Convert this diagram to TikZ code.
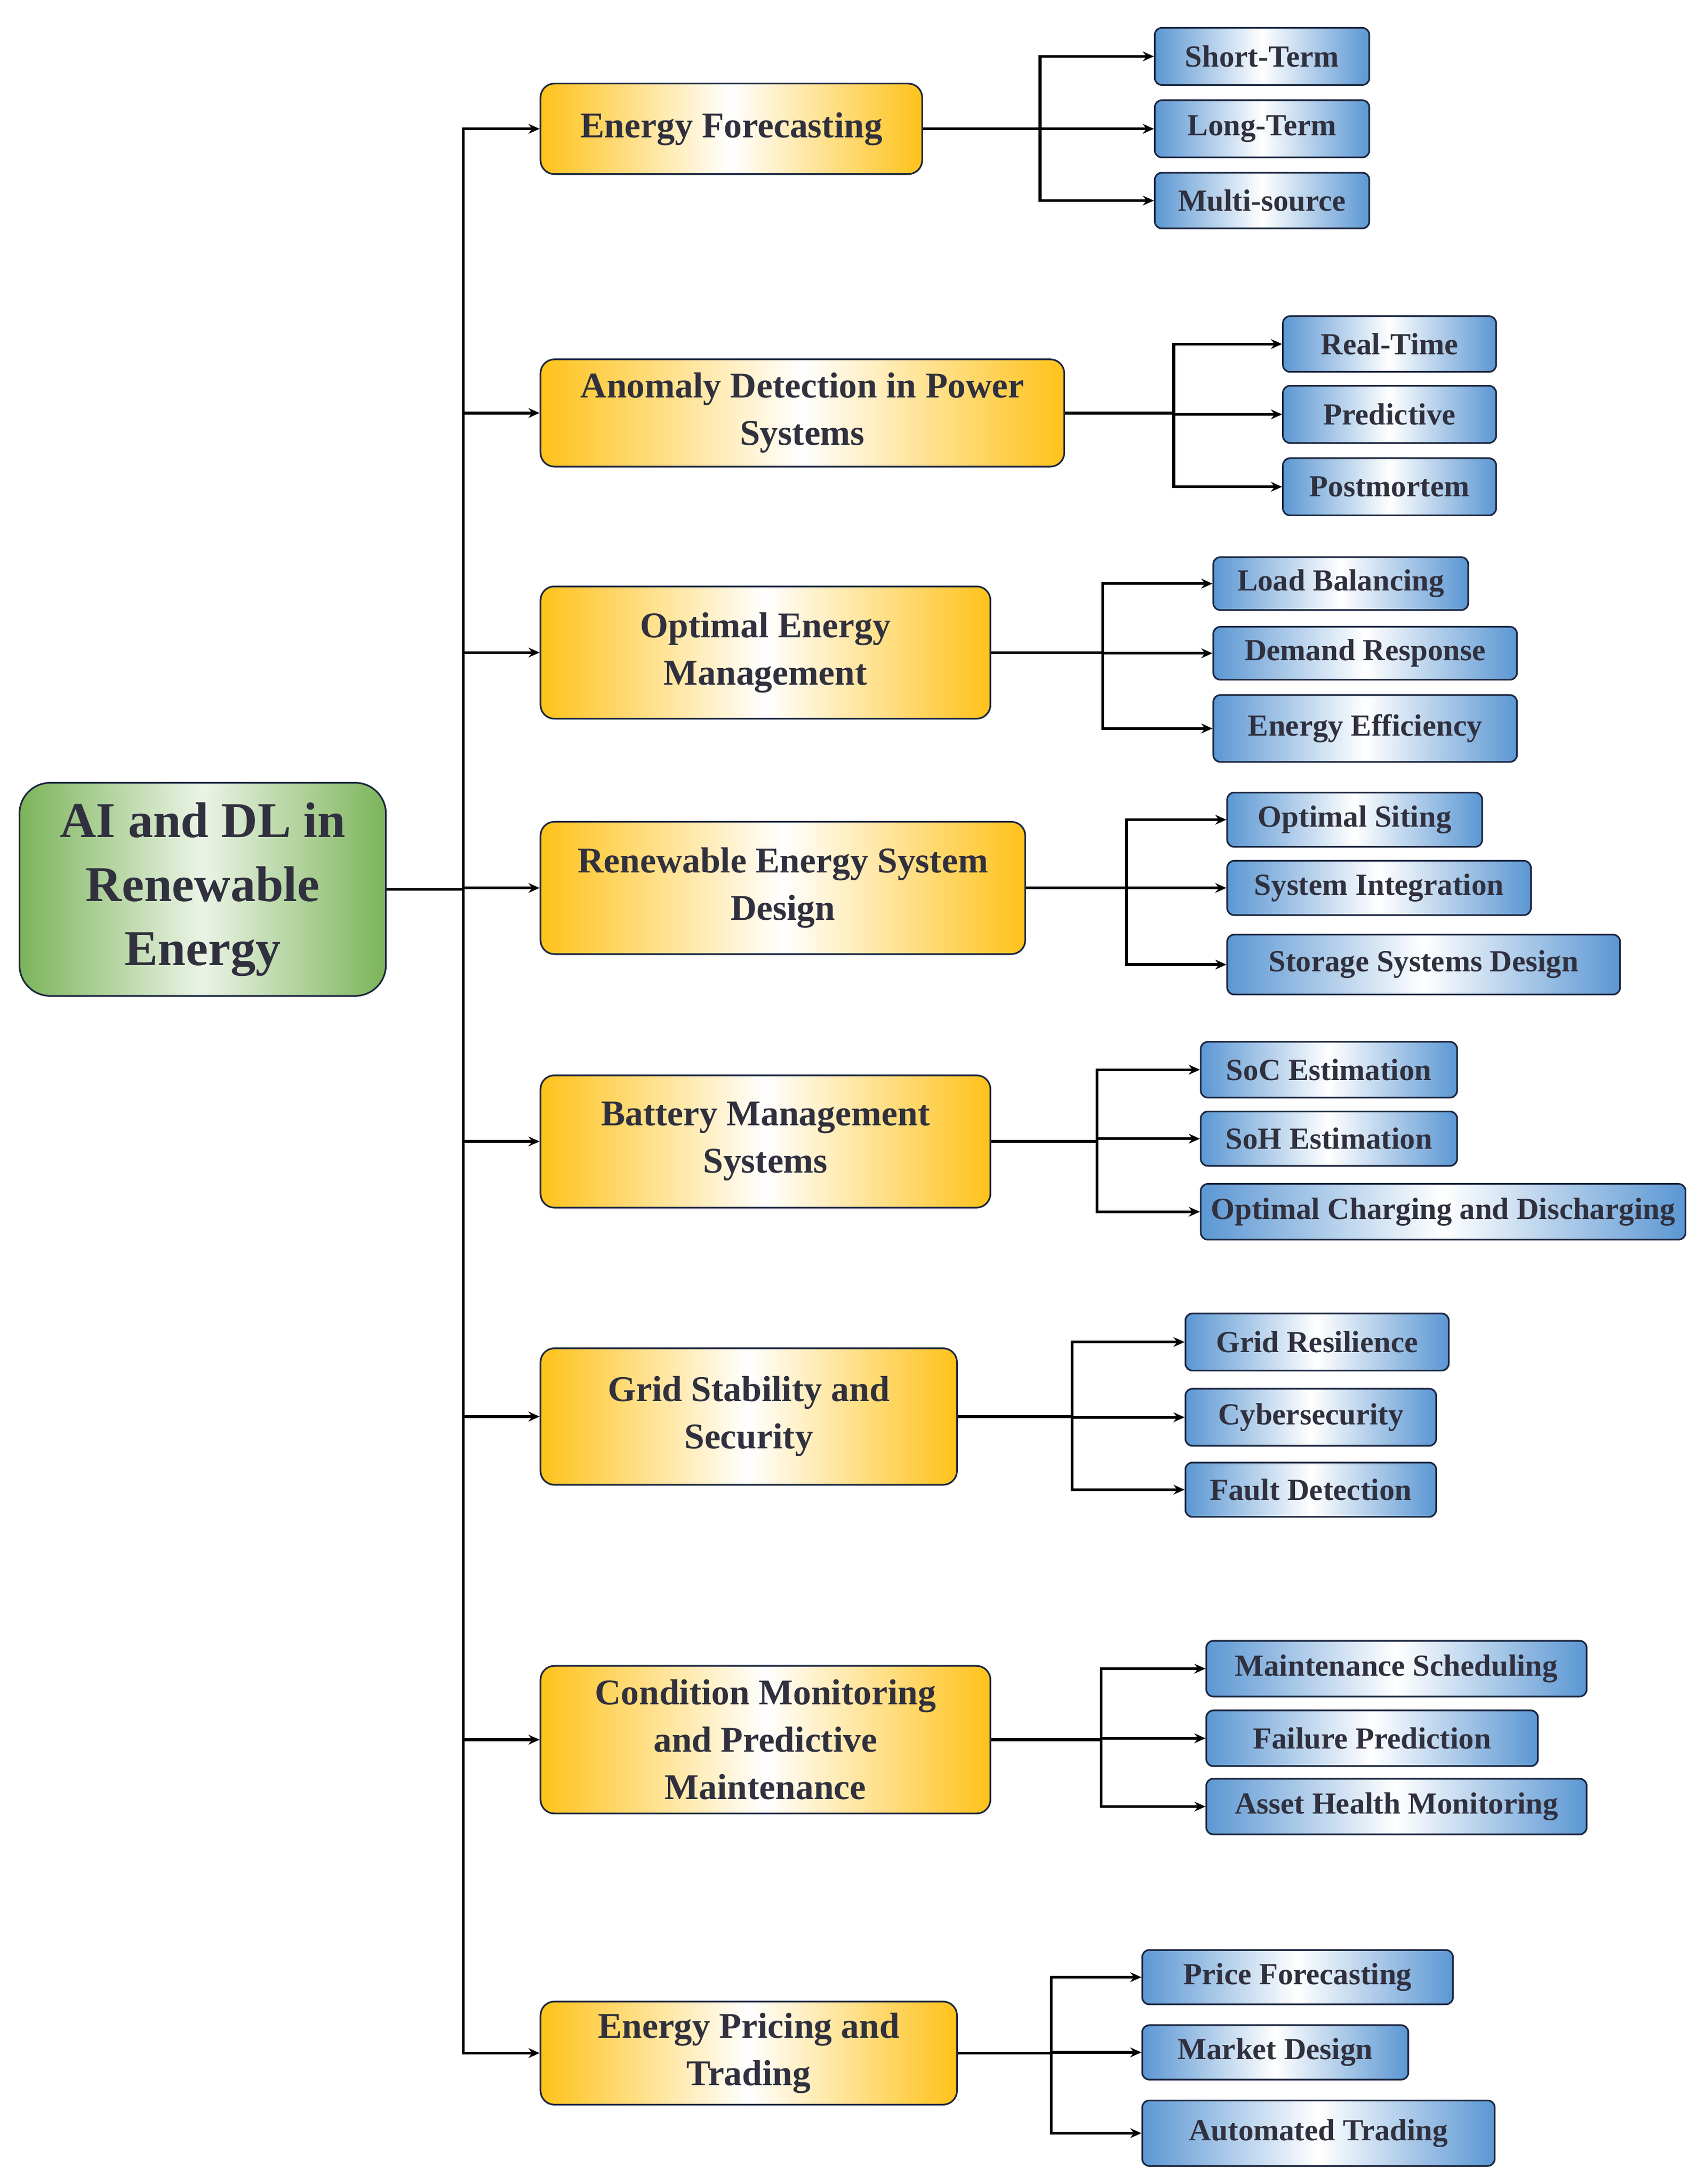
\documentclass[tikz,border=0pt]{standalone}
\usepackage{fontspec}
\setmainfont{Liberation Serif}
\usetikzlibrary{arrows.meta}
\definecolor{txt}{HTML}{30303E}
\definecolor{bord}{HTML}{1C2740}
\definecolor{yel}{HTML}{FFC21A}
\definecolor{blu}{HTML}{5B97D3}
\definecolor{grn}{HTML}{7CB45A}
\begin{document}
\begin{tikzpicture}[x=0.5pt,y=-0.5pt,
  box/.style={draw=bord,line width=0.6pt,text=txt,font=\bfseries,align=center,inner sep=2pt},
  root/.style={box,rounded corners=11pt,left color=grn,right color=grn,middle color=white!85!grn,font=\bfseries\fontsize{18}{23}\selectfont},
  br/.style={box,rounded corners=5pt,left color=yel,right color=yel,middle color=white,font=\bfseries\fontsize{13}{17}\selectfont},
  lf/.style={box,rounded corners=2.5pt,left color=blu,right color=blu,middle color=white,font=\bfseries\fontsize{11}{13}\selectfont},
  con/.style={line width=1pt,-{Stealth[length=4pt,width=3.5pt]}},
  ln/.style={line width=1pt}]
\useasboundingbox (0,0) rectangle (1224,1568);
\newcommand{\bx}[6]{\node[#1,minimum width=#4*0.5pt,minimum height=#5*0.5pt] (#2) at (#3) {#6};}
\bx{root}{r}{145.5,638.5}{263}{153}{AI and DL in\\Renewable\\Energy}
% branches
\bx{br}{b1}{525,92.5}{274}{65}{Energy Forecasting}
\bx{br}{b2}{576,296.5}{376}{77}{Anomaly Detection in Power\\Systems}
\bx{br}{b3}{549.5,468.5}{323}{95}{Optimal Energy\\Management}
\bx{br}{b4}{562,637.5}{348}{95}{Renewable Energy System\\Design}
\bx{br}{b5}{549.5,819.5}{323}{95}{Battery Management\\Systems}
\bx{br}{b6}{537.5,1017}{299}{98}{Grid Stability and\\Security}
\bx{br}{b7}{549.5,1249}{323}{106}{Condition Monitoring\\and Predictive\\Maintenance}
\bx{br}{b8}{537.5,1474}{299}{74}{Energy Pricing and\\Trading}
% leaves
\bx{lf}{l11}{906,40.5}{154}{41}{Short-Term}
\bx{lf}{l12}{906,92.5}{154}{41}{Long-Term}
\bx{lf}{l13}{906,144}{154}{40}{Multi-source}
\bx{lf}{l21}{997.5,247}{153}{40}{Real-Time}
\bx{lf}{l22}{997.5,297.5}{153}{41}{Predictive}
\bx{lf}{l23}{997.5,349.5}{153}{41}{Postmortem}
\bx{lf}{l31}{962.5,419}{183}{38}{Load Balancing}
\bx{lf}{l32}{980,469}{218}{38}{Demand Response}
\bx{lf}{l33}{980,523}{218}{48}{Energy Efficiency}
\bx{lf}{l41}{972.5,588.5}{183}{39}{Optimal Siting}
\bx{lf}{l42}{990,637.5}{218}{39}{System Integration}
\bx{lf}{l43}{1022,692.5}{282}{43}{Storage Systems Design}
\bx{lf}{l51}{954,768}{184}{40}{SoC Estimation}
\bx{lf}{l52}{954,817.5}{184}{39}{SoH Estimation}
\bx{lf}{l53}{1036,870}{348}{40}{Optimal Charging and Discharging}
\bx{lf}{l61}{945.5,963.5}{189}{41}{Grid Resilience}
\bx{lf}{l62}{941,1017.5}{180}{41}{Cybersecurity}
\bx{lf}{l63}{941,1069.5}{180}{39}{Fault Detection}
\bx{lf}{l71}{1002.5,1198}{273}{40}{Maintenance Scheduling}
\bx{lf}{l72}{985,1248}{238}{40}{Failure Prediction}
\bx{lf}{l73}{1002.5,1297}{273}{40}{Asset Health Monitoring}
\bx{lf}{l81}{931.5,1419.5}{223}{39}{Price Forecasting}
\bx{lf}{l82}{915.5,1473.5}{191}{39}{Market Design}
\bx{lf}{l83}{946.5,1531.5}{253}{47}{Automated Trading}
% trunk
\foreach \b in {b1,b2,b3,b4,b5,b6,b7,b8} \draw[con] (r.east) -- ++(55,0) |- (\b.west);
% leaf connectors
\foreach \b/\o/\l in {b1/84/l11,b1/84/l12,b1/84/l13,b2/78/l21,b2/78/l22,b2/78/l23,
  b3/80/l31,b3/80/l32,b3/80/l33,b4/72/l41,b4/72/l42,b4/72/l43,
  b5/76/l51,b5/76/l52,b5/76/l53,b6/82/l61,b6/82/l62,b6/82/l63,
  b7/79/l71,b7/79/l72,b7/79/l73,b8/67/l81,b8/67/l82,b8/67/l83}
  \draw[con] (\b.east) -- ++(\o,0) |- (\l.west);
\end{tikzpicture}
\end{document}
